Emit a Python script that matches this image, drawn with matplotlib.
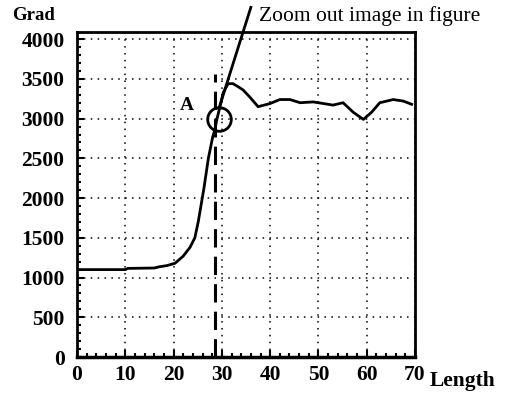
import numpy as np
from matplotlib import pyplot as plt
from matplotlib.ticker import MultipleLocator

# curve
length = [0, 5, 10, 10.5, 16, 17, 18.6, 20.3, 22, 23.4, 24.4, 25.1, 25.8, 26.3,
          27.2, 28.1, 28.5, 29.0, 29.6, 30.3, 31.3, 32.3, 33.4, 34.4, 35.8, 37.5,
          40, 42, 44.1, 46.2, 48.9, 51, 53, 55.1, 57.2, 59.3, 61, 62.7, 65.5,
          67.6, 69.3]
grad = [1100, 1100, 1100, 1115, 1120, 1135, 1150, 1180, 1270, 1380, 1500, 1700,
        1950, 2130, 2500, 2770, 2850, 3000, 3150, 3330, 3440, 3440, 3400, 3360,
        3270, 3150, 3190, 3240, 3240, 3200, 3210, 3190, 3170, 3200, 3080, 2990,
        3080, 3200, 3240, 3220, 3180]

x_ticks = [0, 10, 20, 30, 40, 50, 60, 70]
y_ticks = [0, 500, 1000, 1500, 2000, 2500, 3000, 3500, 4000]

mark_x = 28.5          # dashed line
mark_top = 3560
point_a = (29.4, 3000)  # circled point
label_a = (22.7, 3170)
zoom_from = (29.4, 3130)
zoom_to = (36.0, 4400)

plt.rcParams['font.family'] = 'Liberation Serif'

fig = plt.figure(figsize=(5.08, 3.95), dpi=100)
ax = fig.add_axes([0.1516, 0.0962, 0.6654, 0.8228])

ax.plot(length, grad, color='black', lw=2)
ax.plot([mark_x, mark_x], [0, mark_top], color='black', lw=2.2,
        linestyle=(0, (6, 3)), clip_on=False)
ax.plot([point_a[0]], [point_a[1]], marker='o', ms=17, mfc='none',
        mec='black', mew=2)
ax.plot([zoom_from[0], zoom_to[0]], [zoom_from[1], zoom_to[1]],
        color='black', lw=2, clip_on=False)
ax.text(label_a[0], label_a[1], 'A', fontsize=14, fontweight='bold',
        ha='center', va='center')

ax.set_xlim(0, 70)
ax.set_ylim(0, 4090)
ax.set_xticks(x_ticks)
ax.set_yticks(y_ticks)
ax.xaxis.set_minor_locator(MultipleLocator(2))
ax.yaxis.set_minor_locator(MultipleLocator(100))
ax.tick_params(which='both', direction='in', top=False, right=False,
               width=1.5, labelsize=15.5)
ax.tick_params(which='major', length=5)
ax.tick_params(which='minor', length=3)
ax.tick_params(axis='y', pad=9)
ax.tick_params(axis='x', pad=6)
for lab in ax.get_xticklabels() + ax.get_yticklabels():
    lab.set_fontweight('bold')

ax.grid(True, color='black', lw=1.1, linestyle=(0, (1, 3.5)))
for s in ax.spines.values():
    s.set_linewidth(2)
ax.spines['bottom'].set_linewidth(2.5)

fig.text(12 / 508, 1 - 15 / 395, 'Grad', fontsize=13.5, fontweight='bold',
         va='center', ha='left')
fig.text(430 / 508, 1 - 381 / 395, 'Length', fontsize=15.5, fontweight='bold',
         va='center', ha='left')
fig.text(259 / 508, 1 - 16 / 395, 'Zoom out image in figure', fontsize=15.5,
         va='center', ha='left')

fig.savefig('out.png', dpi=100)
